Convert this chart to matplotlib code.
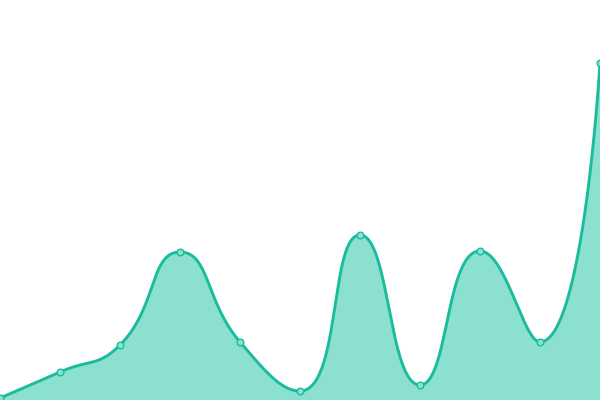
import numpy as np
import matplotlib
matplotlib.use("Agg")
import matplotlib.pyplot as plt

categories = list(range(11))
values = [2, 28, 55, 148, 58, 9, 165, 15, 149, 58, 337]

LINE = "#1abc9c"
FILL = "#8be0d0"

fig = plt.figure(figsize=(6, 4), dpi=100)
ax = fig.add_axes([0, 0, 1, 1])
ax.set_xlim(0, 10)
ax.set_ylim(0, 400)
ax.axis("off")

# ECharts-like smoothing computed in display space
pts = ax.transData.transform(np.column_stack([categories, values]).astype(float))
smooth = 0.5
segs = []
n = len(pts)
cp0 = pts[0].copy()
for i in range(1, n):
    x, y = pts[i]
    px, py = pts[i - 1]
    if i == n - 1:
        cp1 = np.array([x, y])
        ncp0 = None
    else:
        nx, ny = pts[i + 1]
        vx, vy = nx - px, ny - py
        l0 = np.hypot(x - px, y - py)
        l1 = np.hypot(nx - x, ny - y)
        r = l1 / (l0 + l1)
        ncx = x + vx * smooth * r
        ncy = y + vy * smooth * r
        ncx = min(ncx, max(nx, x)); ncy = min(ncy, max(ny, y))
        ncx = max(ncx, min(nx, x)); ncy = max(ncy, min(ny, y))
        vx, vy = ncx - x, ncy - y
        c1x = x - vx * l0 / l1
        c1y = y - vy * l0 / l1
        c1x = min(c1x, max(px, x)); c1y = min(c1y, max(py, y))
        c1x = max(c1x, min(px, x)); c1y = max(c1y, min(py, y))
        vx, vy = x - c1x, y - c1y
        ncp0 = np.array([x + vx * l1 / l0, y + vy * l1 / l0])
        cp1 = np.array([c1x, c1y])
    segs.append((pts[i - 1], cp0, cp1, pts[i]))
    cp0 = ncp0

t = np.linspace(0, 1, 60)[:, None]
curve = []
for p0, c0, c1, p1 in segs:
    b = ((1 - t) ** 3) * p0 + 3 * ((1 - t) ** 2) * t * c0 + 3 * (1 - t) * t ** 2 * c1 + t ** 3 * p1
    curve.append(b)
curve = np.vstack(curve)
data_curve = ax.transData.inverted().transform(curve)

ax.fill_between(data_curve[:, 0], data_curve[:, 1], 0, color=FILL, lw=0)
ax.plot(data_curve[:, 0], data_curve[:, 1], color=LINE, lw=2.1, solid_capstyle="round")
ax.plot(categories, values, ls="none", marker="o", ms=4.8, mfc=FILL, mec=LINE, mew=1.0)

fig.savefig("out.png", dpi=100)
